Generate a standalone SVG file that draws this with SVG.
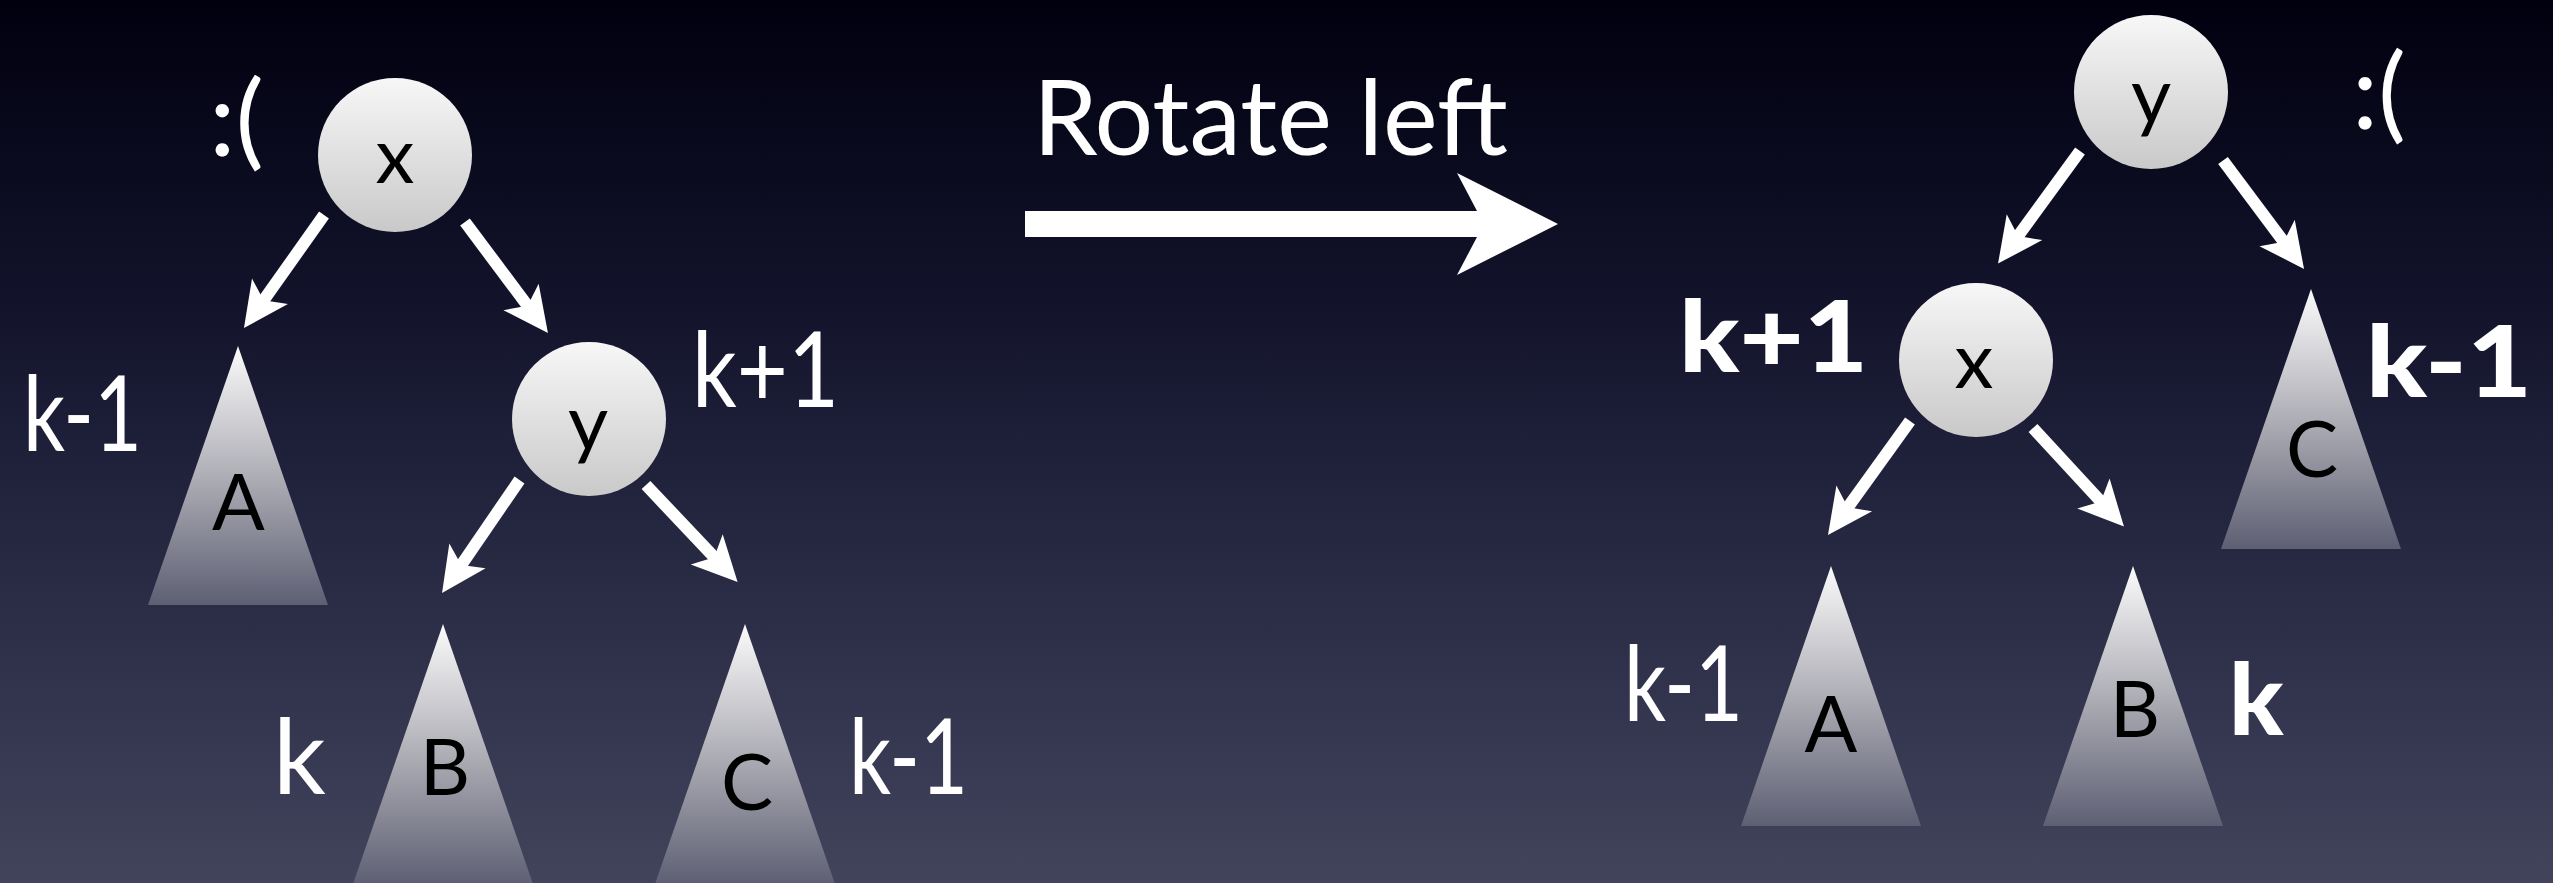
<svg xmlns="http://www.w3.org/2000/svg" width="2553" height="883" viewBox="0 0 2553 883">
  <defs>
    <linearGradient id="bg" x1="0" y1="0" x2="0" y2="1">
      <stop offset="0" stop-color="#00000f"/>
      <stop offset="0.35" stop-color="#13142c"/>
      <stop offset="0.7" stop-color="#2c2d47"/>
      <stop offset="1" stop-color="#42445c"/>
    </linearGradient>
    <linearGradient id="ball" x1="0" y1="0" x2="0" y2="1">
      <stop offset="0" stop-color="#f7f7f7"/>
      <stop offset="1" stop-color="#c9c9c9"/>
    </linearGradient>
    <linearGradient id="tri" x1="0" y1="0" x2="0" y2="1">
      <stop offset="0" stop-color="#fbfbfb"/>
      <stop offset="0.5" stop-color="#aeaeb6"/>
      <stop offset="1" stop-color="#5e5f73"/>
    </linearGradient>
    <marker id="head" markerUnits="userSpaceOnUse" viewBox="-20 -25 55 50" refX="0" refY="0" markerWidth="55" markerHeight="50" orient="auto">
      <path d="M30,0 L-15,-22 L-4,0 L-15,22 Z" fill="#ffffff"/>
    </marker>
    <style>
      .node { fill: url(#ball); }
      .tree { fill: url(#tri); }
      .in { font-family: Lato, "Liberation Sans", sans-serif; font-size: 78px; fill: #000000; text-anchor: middle; }
      .lbl { font-family: Lato, "Liberation Sans", sans-serif; font-size: 104px; fill: #ffffff; }
      .bold { font-weight: 900; font-size: 100px; }
      .edge { stroke: #ffffff; stroke-width: 12; fill: none; marker-end: url(#head); }
    </style>
  </defs>
  <rect x="0" y="0" width="2553" height="883" fill="url(#bg)"/>

  <g id="connectors">
    <line class="edge" x1="324" y1="215" x2="261.3" y2="303.5"/>
    <line class="edge" x1="465" y1="222" x2="530" y2="309"/>
    <line class="edge" x1="519.5" y1="480" x2="459" y2="568.3"/>
    <line class="edge" x1="646" y1="485" x2="717" y2="560.2"/>
    <line class="edge" x1="2080" y1="151" x2="2015.7" y2="239.3"/>
    <line class="edge" x1="2223" y1="160.5" x2="2286.1" y2="245"/>
    <line class="edge" x1="1910" y1="421" x2="1845.5" y2="510.6"/>
    <line class="edge" x1="2033" y1="428" x2="2103.6" y2="504.5"/>
  </g>

  <g id="rotate-arrow">
    <polygon points="1025,211 1477,211 1457,173 1558,224 1457,275 1477,237 1025,237" fill="#ffffff"/>
    <text class="lbl" x="1033" y="155" textLength="475" lengthAdjust="spacingAndGlyphs">Rotate left</text>
  </g>

  <!-- left tree -->
  <g id="L-node-x">
    <circle class="node" cx="395" cy="155" r="77"/>
    <text class="in" x="395" y="183">x</text>
  </g>
  <g id="L-node-y">
    <circle class="node" cx="589" cy="419" r="77"/>
    <text class="in" x="588" y="450">y</text>
  </g>
  <g id="L-tree-A">
    <polygon class="tree" points="238,346 148,605 328,605"/>
    <text class="in" x="238.5" y="530">A</text>
  </g>
  <g id="L-tree-B">
    <polygon class="tree" points="443,624 353,884 533,884"/>
    <text class="in" x="445" y="795">B</text>
  </g>
  <g id="L-tree-C">
    <polygon class="tree" points="745,624 655,884 835,884"/>
    <text class="in" x="747" y="810">C</text>
  </g>
  <g id="L-labels">
    <text class="lbl" x="209" y="156" textLength="55" lengthAdjust="spacingAndGlyphs">:(</text>
    <text class="lbl" x="23" y="451" textLength="119" lengthAdjust="spacingAndGlyphs">k-1</text>
    <text class="lbl" x="692" y="407" textLength="147" lengthAdjust="spacingAndGlyphs">k+1</text>
    <text class="lbl" x="273" y="794">k</text>
    <text class="lbl" x="849" y="794" textLength="119" lengthAdjust="spacingAndGlyphs">k-1</text>
  </g>

  <!-- right tree -->
  <g id="R-node-y">
    <circle class="node" cx="2151" cy="92" r="77"/>
    <text class="in" x="2151" y="123">y</text>
  </g>
  <g id="R-node-x">
    <circle class="node" cx="1976" cy="360" r="77"/>
    <text class="in" x="1974" y="388">x</text>
  </g>
  <g id="R-tree-C">
    <polygon class="tree" points="2311,289 2221,549 2401,549"/>
    <text class="in" x="2312" y="477">C</text>
  </g>
  <g id="R-tree-A">
    <polygon class="tree" points="1831,566 1741,826 1921,826"/>
    <text class="in" x="1831" y="752">A</text>
  </g>
  <g id="R-tree-B">
    <polygon class="tree" points="2133,566 2043,826 2223,826"/>
    <text class="in" x="2135" y="737">B</text>
  </g>
  <g id="R-labels">
    <text class="lbl" x="2352" y="129" textLength="54" lengthAdjust="spacingAndGlyphs">:(</text>
    <text class="lbl bold" x="1679" y="372" textLength="189" lengthAdjust="spacingAndGlyphs">k+1</text>
    <text class="lbl bold" x="2366" y="397" textLength="166" lengthAdjust="spacingAndGlyphs">k-1</text>
    <text class="lbl" x="1624" y="721" textLength="119" lengthAdjust="spacingAndGlyphs">k-1</text>
    <text class="lbl bold" x="2229" y="735">k</text>
  </g>
</svg>
